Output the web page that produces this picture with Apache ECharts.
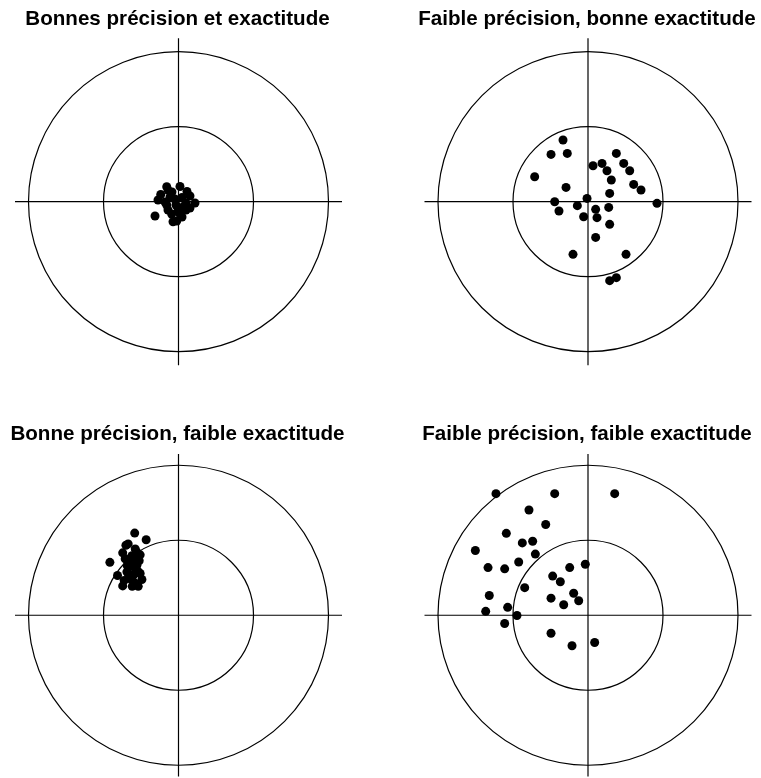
<!DOCTYPE html>
<html>
<head>
<meta charset="utf-8">
<script src="https://cdn.jsdelivr.net/npm/echarts@6/dist/echarts.min.js"></script>
<style>html,body{margin:0;padding:0;background:#fff;}#chart{width:761px;height:778px;}</style>
</head>
<body>
<div id="chart"></div>
<script>
// Panel titles
var panelTitles = [
  'Bonnes précision et exactitude',
  'Faible précision, bonne exactitude',
  'Bonne précision, faible exactitude',
  'Faible précision, faible exactitude'
];
// Ring radii (inner ring = 1 unit, outer ring = 2 units)
var ringRadii = [1, 2];
// Half-length of the crosshair lines
var crossHalf = 2.18;
// Axis half-extent
var axisHalf = 2.2;

// Shots, [x, y] in ring units
var shotsGoodGood = [
  [-0.157, 0.200], [0.020, 0.203], [0.113, 0.136], [-0.237, 0.096], [-0.273, 0.023],
  [-0.180, -0.004], [-0.047, 0.036], [0.047, 0.056], [0.153, 0.076], [0.220, -0.017],
  [0.064, -0.067], [-0.313, -0.191], [-0.091, -0.164], [-0.024, -0.257], [0.047, -0.204],
  [-0.073, -0.267], [-0.157, -0.044], [-0.003, -0.111], [-0.140, 0.156], [-0.113, 0.063],
  [0.100, -0.111], [-0.087, 0.129], [-0.033, -0.044], [0.100, -0.017], [-0.140, -0.111],
  [0.020, -0.164], [0.153, -0.084]
];
var shotsLowPrecGoodAcc = [
  [-0.333, 0.822], [-0.493, 0.631], [-0.276, 0.644], [-0.711, 0.333], [-0.293, 0.191],
  [0.067, 0.480], [0.187, 0.511], [0.253, 0.413], [0.378, 0.644], [0.476, 0.511],
  [0.556, 0.413], [0.311, 0.289], [0.609, 0.231], [0.707, 0.156], [0.289, 0.111],
  [0.920, -0.022], [-0.013, 0.044], [-0.444, 0.000], [-0.387, -0.124], [-0.142, -0.053],
  [0.102, -0.102], [0.276, -0.076], [-0.058, -0.200], [0.120, -0.213], [0.289, -0.302],
  [0.102, -0.476], [-0.200, -0.702], [0.507, -0.702], [0.289, -1.053], [0.378, -1.013]
];
var shotsGoodPrecLowAcc = [
  [-0.584, 1.111], [-0.431, 1.021], [-0.701, 0.947], [-0.577, 0.897], [-0.744, 0.844],
  [-0.555, 0.851], [-0.915, 0.715], [-0.621, 0.804], [-0.621, 0.720], [-0.813, 0.537],
  [-0.688, 0.587], [-0.533, 0.587], [-0.744, 0.397], [-0.577, 0.431], [-0.644, 0.491],
  [-0.488, 0.484], [-0.667, 0.653], [-0.555, 0.675], [-0.604, 0.537], [-0.524, 0.737],
  [-0.671, 0.964], [-0.511, 0.817], [-0.711, 0.764], [-0.591, 0.764], [-0.671, 0.564],
  [-0.511, 0.564], [-0.724, 0.471], [-0.617, 0.391], [-0.537, 0.391], [-0.577, 0.631],
  [-0.684, 0.671]
];
var shotsLowLow = [
  [-1.227, 1.644], [-0.444, 1.644], [0.356, 1.644], [-0.787, 1.422], [-0.564, 1.227],
  [-1.089, 1.107], [-0.876, 0.978], [-0.738, 1.000], [-1.502, 0.876], [-0.702, 0.827],
  [-1.333, 0.644], [-1.111, 0.627], [-0.924, 0.720], [-0.244, 0.644], [-0.036, 0.689],
  [-0.471, 0.529], [-0.369, 0.453], [-0.844, 0.373], [-0.191, 0.298], [-1.316, 0.267],
  [-0.493, 0.231], [-0.124, 0.196], [-0.324, 0.142], [-1.364, 0.053], [-1.071, 0.107],
  [-0.947, -0.004], [-1.111, -0.111], [-0.493, -0.244], [-0.213, -0.413], [0.089, -0.369]
];
var panelShots = [shotsGoodGood, shotsLowPrecGoodAcc, shotsGoodPrecLowAcc, shotsLowLow];

// Layout (pixel centers of each target)
var centers = [[178.5, 201.7], [588, 201.7], [178.5, 617.5], [588, 617.5]];
var titleTops = [9, 9, 424, 424];
var plotSize = 330;

var chart = echarts.init(document.getElementById('chart'), null, {renderer: 'canvas'});
var grids = [], xAxes = [], yAxes = [], series = [], titles = [];
var font = '"Liberation Sans", Arial, Helvetica, sans-serif';

centers.forEach(function (c, i) {
  grids.push({left: c[0] - plotSize / 2, top: c[1] - plotSize / 2, width: plotSize, height: plotSize});
  var ax = {gridIndex: i, type: 'value', min: -axisHalf, max: axisHalf, show: false, splitLine: {show: false}};
  xAxes.push(Object.assign({}, ax));
  yAxes.push(Object.assign({}, ax));
  titles.push({
    text: panelTitles[i], left: c[0] - 1, top: titleTops[i], textAlign: 'center', padding: 0,
    textStyle: {fontFamily: font, fontSize: 20.6, fontWeight: 'bold', color: '#000', lineHeight: 21}
  });
  // crosshair
  series.push({
    type: 'custom', xAxisIndex: i, yAxisIndex: i, silent: true, z: 1,
    data: [[-crossHalf, 0, crossHalf, 0], [0, -crossHalf, 0, crossHalf]],
    renderItem: function (params, api) {
      var a = api.coord([api.value(0), api.value(1)]);
      var b = api.coord([api.value(2), api.value(3)]);
      return {type: 'line', shape: {x1: a[0], y1: a[1], x2: b[0], y2: b[1]},
        style: {stroke: '#000', lineWidth: 1.2, fill: null}};
    }
  });
  // rings
  series.push({
    type: 'custom', xAxisIndex: i, yAxisIndex: i, silent: true, z: 1,
    data: ringRadii.map(function (r) { return [0, 0, r]; }),
    renderItem: function (params, api) {
      var ctr = api.coord([api.value(0), api.value(1)]);
      var sz = api.size([api.value(2), api.value(2)]);
      return {type: 'circle', shape: {cx: ctr[0], cy: ctr[1], r: sz[0]},
        style: {stroke: '#000', lineWidth: 1.2, fill: null}};
    }
  });
  // shots
  series.push({
    type: 'scatter', xAxisIndex: i, yAxisIndex: i, z: 3,
    symbol: 'circle', symbolSize: 9,
    itemStyle: {color: '#000', opacity: 1},
    data: panelShots[i]
  });
});

chart.setOption({
  animation: false,
  backgroundColor: '#fff',
  title: titles,
  grid: grids,
  xAxis: xAxes,
  yAxis: yAxes,
  series: series
});
</script>
</body>
</html>
